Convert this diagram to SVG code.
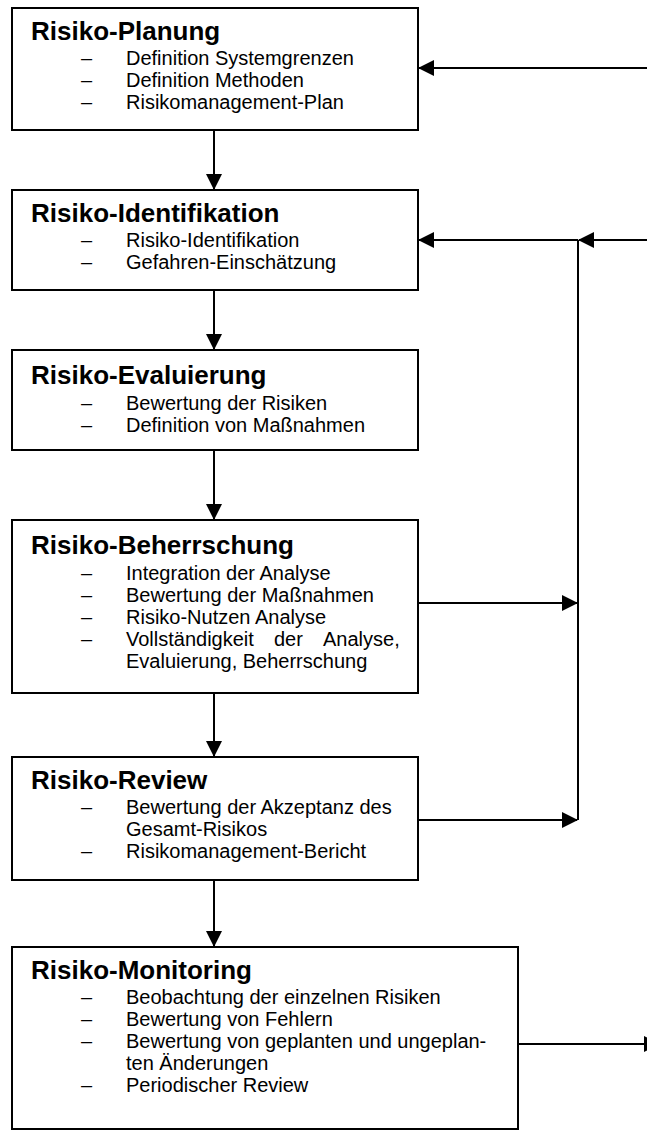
<svg xmlns="http://www.w3.org/2000/svg" width="647" height="1135" viewBox="0 0 647 1135">
<style>
.box{fill:#fff;stroke:#000;stroke-width:2}
.t{font-family:"Liberation Sans",Arial,sans-serif;font-weight:bold;font-size:26px;fill:#000}
.b{font-family:"Liberation Sans",Arial,sans-serif;font-size:20px;fill:#000}
.c{stroke:#000;stroke-width:2;fill:none}
</style>
<defs>
<marker id="ah" markerWidth="16" markerHeight="16" refX="15" refY="8" orient="auto" markerUnits="userSpaceOnUse">
<path d="M0,0 L16,8 L0,16 Z" fill="#000"/>
</marker>
</defs>
<g id="connectors">
<line class="c" x1="647" y1="68" x2="419" y2="68" marker-end="url(#ah)"/>
<line class="c" x1="647" y1="240" x2="579" y2="240" marker-end="url(#ah)"/>
<line class="c" x1="578" y1="240" x2="419" y2="240" marker-end="url(#ah)"/>
<line class="c" x1="578" y1="240" x2="578" y2="820"/>
<line class="c" x1="418" y1="603" x2="577" y2="603" marker-end="url(#ah)"/>
<line class="c" x1="418" y1="820" x2="577" y2="820" marker-end="url(#ah)"/>
<line class="c" x1="518" y1="1044" x2="659" y2="1044" marker-end="url(#ah)"/>
<line class="c" x1="214" y1="130" x2="214" y2="189" marker-end="url(#ah)"/>
<line class="c" x1="214" y1="290" x2="214" y2="349" marker-end="url(#ah)"/>
<line class="c" x1="214" y1="450" x2="214" y2="519" marker-end="url(#ah)"/>
<line class="c" x1="214" y1="693" x2="214" y2="756" marker-end="url(#ah)"/>
<line class="c" x1="214" y1="880" x2="214" y2="946" marker-end="url(#ah)"/>
</g>
<g id="planung">
<rect class="box" x="12" y="8" width="406" height="122"/>
<text class="t" x="31" y="40">Risiko-Planung</text>
<text class="b" x="81" y="65">–</text><text class="b" x="126" y="65">Definition Systemgrenzen</text>
<text class="b" x="81" y="87">–</text><text class="b" x="126" y="87">Definition Methoden</text>
<text class="b" x="81" y="109">–</text><text class="b" x="126" y="109">Risikomanagement-Plan</text>
</g>
<g id="identifikation">
<rect class="box" x="12" y="190" width="406" height="100"/>
<text class="t" x="31" y="222">Risiko-Identifikation</text>
<text class="b" x="81" y="247">–</text><text class="b" x="126" y="247">Risiko-Identifikation</text>
<text class="b" x="81" y="269">–</text><text class="b" x="126" y="269">Gefahren-Einschätzung</text>
</g>
<g id="evaluierung">
<rect class="box" x="12" y="350" width="406" height="100"/>
<text class="t" x="31" y="384">Risiko-Evaluierung</text>
<text class="b" x="81" y="410">–</text><text class="b" x="126" y="410">Bewertung der Risiken</text>
<text class="b" x="81" y="432">–</text><text class="b" x="126" y="432">Definition von Maßnahmen</text>
</g>
<g id="beherrschung">
<rect class="box" x="12" y="520" width="406" height="173"/>
<text class="t" x="31" y="554">Risiko-Beherrschung</text>
<text class="b" x="81" y="580">–</text><text class="b" x="126" y="580">Integration der Analyse</text>
<text class="b" x="81" y="602">–</text><text class="b" x="126" y="602">Bewertung der Maßnahmen</text>
<text class="b" x="81" y="624">–</text><text class="b" x="126" y="624">Risiko-Nutzen Analyse</text>
<text class="b" x="81" y="646">–</text><text class="b" y="646"><tspan x="126">Vollständigkeit</tspan><tspan x="274">der</tspan><tspan x="323">Analyse,</tspan></text>
<text class="b" x="126" y="668">Evaluierung, Beherrschung</text>
</g>
<g id="review">
<rect class="box" x="12" y="757" width="406" height="123"/>
<text class="t" x="31" y="789">Risiko-Review</text>
<text class="b" x="81" y="814">–</text><text class="b" x="126" y="814">Bewertung der Akzeptanz des</text>
<text class="b" x="126" y="836">Gesamt-Risikos</text>
<text class="b" x="81" y="858">–</text><text class="b" x="126" y="858">Risikomanagement-Bericht</text>
</g>
<g id="monitoring">
<rect class="box" x="12" y="947" width="506" height="182"/>
<text class="t" x="31" y="979">Risiko-Monitoring</text>
<text class="b" x="81" y="1004">–</text><text class="b" x="126" y="1004">Beobachtung der einzelnen Risiken</text>
<text class="b" x="81" y="1026">–</text><text class="b" x="126" y="1026">Bewertung von Fehlern</text>
<text class="b" x="81" y="1048">–</text><text class="b" x="126" y="1048">Bewertung von geplanten und ungeplan-</text>
<text class="b" x="126" y="1070">ten Änderungen</text>
<text class="b" x="81" y="1092">–</text><text class="b" x="126" y="1092">Periodischer Review</text>
</g>
</svg>
